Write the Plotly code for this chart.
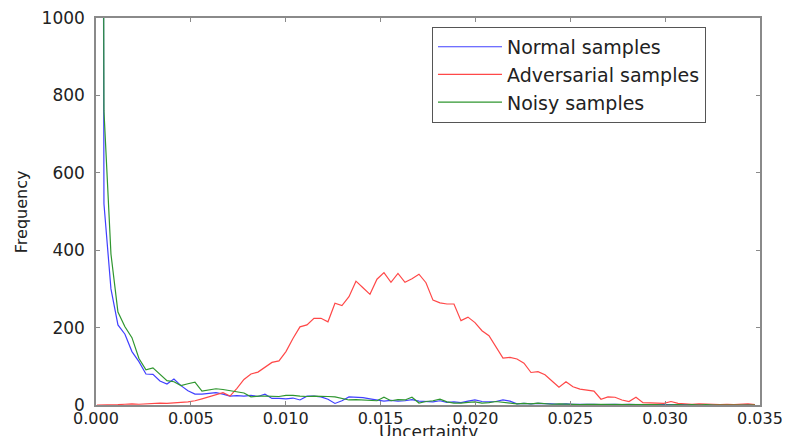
import numpy as np
import plotly.graph_objects as go

# histogram bins (uncertainty)
bin_width = 0.000369
bin_start = 0.00005

normal = [9000, 520, 300, 207, 183, 138, 112, 80, 79, 62, 54, 67, 50, 37, 28, 28, 30, 32, 28, 23,
          24, 23, 25, 22, 28, 17, 17, 16, 18, 13, 23, 23, 21, 15, 4, 11, 21, 20, 19, 16,
          13, 10, 12, 10, 11, 14, 10, 9, 8, 11, 7, 8, 6, 10, 13, 9, 8, 9, 13, 10,
          3, 4, 3, 4, 4, 3, 2, 3, 2, 2, 3, 2, 1, 2, 2, 1, 2, 1, 1, 2,
          1, 1, 2, 1, 1, 1, 1, 0, 1, 1, 0, 1, 0, 1, 0]
adversarial = [0, 0, 1, 1, 2, 3, 2, 3, 4, 5, 4, 6, 7, 8, 11, 16, 22, 26, 32, 23,
               43, 66, 80, 85, 97, 110, 114, 138, 172, 202, 207, 224, 224, 215, 263, 257, 280, 320, 303, 286,
               325, 342, 317, 340, 317, 326, 338, 316, 271, 264, 261, 261, 218, 227, 213, 192, 179, 151, 121, 123,
               119, 108, 84, 86, 78, 62, 46, 60, 47, 41, 39, 36, 15, 21, 20, 13, 9, 20, 6, 6,
               5, 4, 9, 4, 3, 2, 3, 3, 2, 1, 2, 1, 2, 3, 1]
noisy = [8500, 760, 390, 240, 202, 174, 120, 91, 96, 79, 63, 60, 50, 55, 59, 36, 39, 42, 40, 37,
         35, 31, 21, 23, 23, 22, 22, 25, 25, 23, 22, 23, 23, 22, 21, 17, 13, 14, 13, 12,
         11, 20, 11, 14, 13, 20, 5, 9, 11, 15, 8, 5, 5, 7, 8, 5, 6, 9, 7, 4,
         3, 4, 3, 5, 3, 2, 3, 2, 2, 1, 2, 2, 1, 1, 2, 1, 1, 1, 2, 1,
         1, 0, 1, 1, 0, 1, 0, 1, 0, 0, 1, 0, 0, 0, 0]

x = bin_start + bin_width * np.arange(len(normal))

x_ticks = [0.000, 0.005, 0.010, 0.015, 0.020, 0.025, 0.030, 0.035]
y_ticks = [0, 200, 400, 600, 800, 1000]

FONT = "DejaVu Sans"
fig = go.Figure()
fig.add_trace(go.Scatter(x=x, y=normal, mode="lines", name="Normal samples",
                         line=dict(color="#4040ff", width=1.2)))
fig.add_trace(go.Scatter(x=x, y=adversarial, mode="lines", name="Adversarial samples",
                         line=dict(color="#ff4848", width=1.2)))
fig.add_trace(go.Scatter(x=x, y=noisy, mode="lines", name="Noisy samples",
                         line=dict(color="#2f962f", width=1.2)))

axis_common = dict(showgrid=False, zeroline=False, showline=True, linecolor="#8a8a8a",
                   linewidth=1.5, mirror="ticks", ticks="inside", ticklen=4,
                   tickcolor="#8a8a8a", automargin=False)
fig.update_xaxes(range=[0, 0.035], tickvals=x_ticks, tickformat=".3f",
                 ticklabelstandoff=-2,
                 tickfont=dict(family=FONT, size=16, color="#222"), **axis_common)
fig.update_yaxes(range=[0, 1000], tickvals=y_ticks, ticklabelstandoff=6,
                 tickfont=dict(family=FONT, size=17, color="#222"), **axis_common)

fig.update_layout(
    width=785, height=436,
    margin=dict(l=96, r=25, t=18, b=31, autoexpand=False),
    plot_bgcolor="white", paper_bgcolor="white",
    showlegend=True,
    legend=dict(x=0.506, y=0.977, xanchor="left", yanchor="top",
                bordercolor="#555", borderwidth=1, bgcolor="white",
                font=dict(family=FONT, size=19, color="#222"),
                itemwidth=64, tracegroupgap=0),
    annotations=[
        dict(text="Uncertainty", xref="paper", yref="paper", x=0.5, y=-0.071,
             xanchor="center", yanchor="middle", showarrow=False,
             font=dict(family=FONT, size=17, color="#222")),
        dict(text="Frequency", xref="paper", yref="paper", x=-0.111, y=0.499,
             xanchor="center", yanchor="middle", showarrow=False, textangle=-90,
             font=dict(family=FONT, size=16, color="#222")),
    ],
)

fig.write_html("out.html")
